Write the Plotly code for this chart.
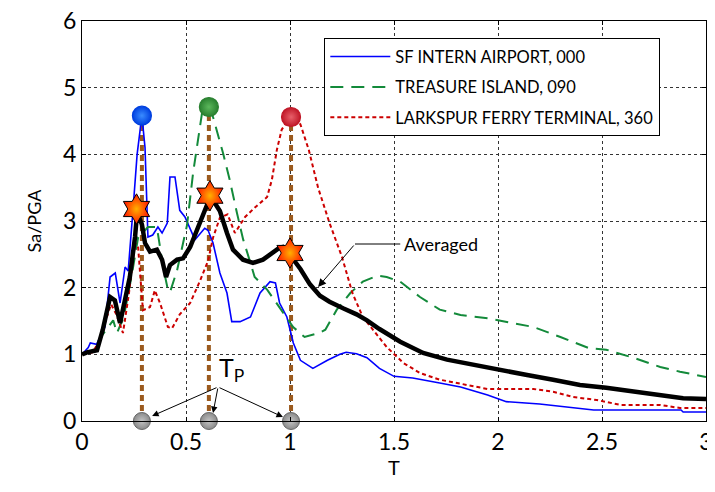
import plotly.graph_objects as go

# ---------------- data ----------------
T_sf = [0, 0.03, 0.04, 0.07, 0.11, 0.135, 0.16, 0.183, 0.207, 0.222, 0.245, 0.265, 0.288, 0.303,
        0.317, 0.34, 0.365, 0.385, 0.41, 0.423, 0.447, 0.47, 0.495, 0.543, 0.59, 0.606, 0.63, 0.663,
        0.697, 0.72, 0.76, 0.81, 0.856, 0.904, 0.93, 0.95, 0.985, 1.016, 1.05, 1.11, 1.18, 1.24,
        1.27, 1.32, 1.37, 1.43, 1.5, 1.59, 1.72, 1.82, 1.95, 2.04, 2.2, 2.33, 2.46, 2.88, 2.89, 3.0]
sa_sf = [1.0, 1.1, 1.17, 1.15, 1.41, 2.16, 2.22, 1.77, 2.31, 2.25, 3.16, 4.0, 4.58, 4.1,
         2.76, 2.79, 2.91, 2.82, 2.97, 3.66, 3.66, 3.16, 3.06, 2.72, 2.89, 2.86, 2.67, 2.22,
         1.92, 1.49, 1.49, 1.56, 1.92, 2.09, 2.07, 1.77, 1.56, 1.17, 0.91, 0.79, 0.91, 1.0,
         1.03, 1.01, 0.95, 0.79, 0.67, 0.645, 0.57, 0.51, 0.39, 0.29, 0.255, 0.21, 0.165, 0.165, 0.135, 0.135]

T_ti = [0, 0.05, 0.1, 0.15, 0.168, 0.2, 0.24, 0.27, 0.3, 0.317, 0.36, 0.39, 0.41, 0.423, 0.457,
        0.505, 0.534, 0.558, 0.577, 0.606, 0.63, 0.678, 0.71, 0.745, 0.775, 0.81, 0.83, 0.89, 0.95,
        1.015, 1.07, 1.11, 1.14, 1.17, 1.225, 1.29, 1.35, 1.42, 1.465, 1.53, 1.625, 1.72, 1.82,
        1.95, 2.04, 2.17, 2.3, 2.44, 2.52, 2.65, 2.78, 2.875, 3.0]
sa_ti = [1.0, 1.05, 1.3, 1.51, 1.32, 1.55, 2.2, 2.76, 2.85, 2.91, 2.91, 2.31, 2.01, 1.93, 2.26,
         2.94, 3.72, 4.21, 4.62, 4.71, 4.56, 4.02, 3.62, 3.12, 2.72, 2.37, 2.16, 1.97, 1.71,
         1.41, 1.26, 1.29, 1.32, 1.37, 1.67, 1.92, 2.09, 2.18, 2.16, 2.09, 1.86, 1.67, 1.59,
         1.54, 1.49, 1.41, 1.26, 1.09, 1.07, 0.95, 0.81, 0.74, 0.66]

T_lk = [0, 0.05, 0.087, 0.113, 0.14, 0.165, 0.197, 0.225, 0.255, 0.27, 0.293, 0.327, 0.35, 0.375,
        0.413, 0.433, 0.47, 0.52, 0.567, 0.606, 0.63, 0.663, 0.7, 0.735, 0.784, 0.83, 0.89, 0.913,
        0.937, 0.96, 0.985, 1.01, 1.05, 1.09, 1.135, 1.19, 1.25, 1.3, 1.35, 1.41, 1.465, 1.545,
        1.625, 1.72, 1.85, 1.95, 2.17, 2.265, 2.36, 2.475, 2.59, 2.78, 2.875, 3.0]
sa_lk = [1.0, 1.03, 1.21, 1.5, 1.75, 1.6, 1.32, 1.9, 2.67, 2.6, 1.66, 1.71, 1.96, 1.77,
         1.41, 1.39, 1.6, 1.77, 2.1, 2.4, 2.75, 3.05, 3.1, 2.82, 3.06, 3.2, 3.36, 3.62,
         4.07, 4.37, 4.49, 4.56, 4.45, 4.07, 3.5, 2.97, 2.46, 1.92, 1.56, 1.32, 1.11, 0.87,
         0.72, 0.62, 0.54, 0.48, 0.48, 0.44, 0.36, 0.315, 0.24, 0.24, 0.195, 0.195]

T_avg = [0, 0.024, 0.072, 0.1, 0.135, 0.158, 0.183, 0.207, 0.23, 0.255, 0.265, 0.275, 0.288, 0.303,
         0.327, 0.36, 0.385, 0.404, 0.423, 0.457, 0.486, 0.52, 0.558, 0.6, 0.615, 0.63, 0.663, 0.697,
         0.726, 0.774, 0.822, 0.87, 0.918, 0.95, 0.966, 1.0, 1.05, 1.096, 1.144, 1.19, 1.255, 1.32,
         1.37, 1.43, 1.53, 1.64, 1.755, 1.88, 2.01, 2.14, 2.265, 2.394, 2.52, 2.65, 2.78, 2.89, 3.0]
sa_avg = [1.0, 1.03, 1.06, 1.37, 1.86, 1.81, 1.47, 1.81, 2.16, 2.76, 3.12, 3.05, 2.95, 2.67,
          2.54, 2.57, 2.42, 2.16, 2.34, 2.42, 2.44, 2.61, 2.91, 3.25, 3.35, 3.31, 3.15, 2.82,
          2.57, 2.42, 2.37, 2.42, 2.52, 2.6, 2.61, 2.49, 2.28, 2.05, 1.88, 1.79, 1.69, 1.6,
          1.51, 1.38, 1.19, 1.02, 0.92, 0.84, 0.77, 0.69, 0.62, 0.54, 0.5, 0.44, 0.39, 0.34, 0.33]

# predominant periods and peaks
tp_values = [0.288, 0.61, 1.005]
peak_values = [4.58, 4.71, 4.56]
peak_colors = ["#3a8cff", "#5cb85c", "#e8606a"]
peak_edges = ["#0040e0", "#2a8030", "#c01828"]
star_T = [0.262, 0.615, 1.0]
star_sa = [3.18, 3.38, 2.52]

series_names = ["SF INTERN AIRPORT, 000", "TREASURE ISLAND, 090", "LARKSPUR FERRY TERMINAL, 360"]

FONT = "Lato, 'Open Sans', sans-serif"

fig = go.Figure()

# brown dashed vertical lines (behind)
for tp, pk in zip(tp_values, peak_values):
    fig.add_trace(go.Scatter(x=[tp, tp], y=[0, pk], mode="lines",
                             line=dict(color="#9b5a1e", width=4, dash="6px,4px"),
                             showlegend=False, hoverinfo="skip"))

fig.add_trace(go.Scatter(x=T_sf, y=sa_sf, mode="lines", name=series_names[0], legendgroup="a",
                         line=dict(color="#0000ff", width=1.6)))
fig.add_trace(go.Scatter(x=T_ti, y=sa_ti, mode="lines", name=series_names[1], legendgroup="b",
                         line=dict(color="#138a3a", width=2, dash="13px,8px")))
fig.add_trace(go.Scatter(x=T_lk, y=sa_lk, mode="lines", name=series_names[2], legendgroup="c",
                         line=dict(color="#cc0000", width=2, dash="4px,3px")))
fig.add_trace(go.Scatter(x=T_avg, y=sa_avg, mode="lines", name="Averaged",
                         line=dict(color="#000000", width=4.5), showlegend=False))

# peak circles
for tp, pk, c, e in zip(tp_values, peak_values, peak_colors, peak_edges):
    fig.add_trace(go.Scatter(x=[tp], y=[pk], mode="markers", showlegend=False,
                             marker=dict(size=19, color=e, line=dict(color=e, width=1.2),
                                         gradient=dict(type="radial", color=c))))
# bottom gray circles
fig.add_trace(go.Scatter(x=tp_values, y=[0, 0, 0], mode="markers", showlegend=False,
                         cliponaxis=False,
                         marker=dict(size=17, color="#8a8a8a", line=dict(color="#666666", width=1),
                                     gradient=dict(type="radial", color="#c4c4c4"))))
# stars
fig.add_trace(go.Scatter(x=star_T, y=star_sa, mode="markers", showlegend=False,
                         marker=dict(symbol="hexagram", size=23, color="#ff1a00",
                                     line=dict(color="#000000", width=1),
                                     gradient=dict(type="radial", color="#ffb000"))))

# "Averaged" annotation with bent leader
fig.add_shape(type="line", x0=1.3125, y0=2.655, x1=1.53, y1=2.655,
              line=dict(color="black", width=1))
fig.add_annotation(x=1.135, y=2.01, ax=1.3125, ay=2.655, axref="x", ayref="y",
                   text="", showarrow=True, arrowhead=2, arrowsize=1.6, arrowwidth=1,
                   arrowcolor="black", standoff=0)
fig.add_annotation(x=1.54, y=2.66, text="Averaged", showarrow=False, xanchor="left",
                   font=dict(family=FONT, size=18, color="black"))

# T_P annotation
fig.add_annotation(x=0.72, y=0.78, text="T<sub>P</sub>", showarrow=False,
                   font=dict(family=FONT, size=25, color="black"))
for tx, ty in [(0.337, 0.075), (0.63, 0.12), (0.966, 0.06)]:
    fig.add_annotation(x=tx, y=ty, ax=0.654, ay=0.51, axref="x", ayref="y",
                       text="", showarrow=True, arrowhead=2, arrowsize=1.3, arrowwidth=1,
                       arrowcolor="black", standoff=0)

axis_common = dict(showline=True, linecolor="black", linewidth=1.2, mirror="ticks",
                   ticks="inside", ticklen=4, tickcolor="black", automargin=False,
                   ticklabeloverflow="allow",
                   showgrid=True, gridcolor="#333333", griddash="dot", gridwidth=1,
                   zeroline=False, tickfont=dict(family=FONT, size=23, color="black"))

fig.update_xaxes(range=[0, 3], tickvals=[0, 0.5, 1, 1.5, 2, 2.5, 3],
                 ticktext=["0", "0.5", "1", "1.5", "2", "2.5", "3"],
                 title=dict(text="T", font=dict(family=FONT, size=20, color="black"), standoff=6),
                 **axis_common)
fig.update_yaxes(range=[0, 6], tickvals=[0, 1, 2, 3, 4, 5, 6],
                 title=dict(text="Sa/PGA", font=dict(family=FONT, size=18, color="black"), standoff=16),
                 **axis_common)

# page body adds an 8px offset, so the figure is sized to fill the rest of the window
fig.update_layout(
    width=707, height=484,
    margin=dict(l=74, r=9, t=13, b=71),
    plot_bgcolor="white", paper_bgcolor="white",
    font=dict(family=FONT, color="black"),
    legend=dict(x=0.388, y=0.9575, xanchor="left", yanchor="top",
                bgcolor="white", bordercolor="black", borderwidth=1.2,
                font=dict(family=FONT, size=16.5, color="black"),
                tracegroupgap=6, itemwidth=60),
)

fig.write_html("out.html")
